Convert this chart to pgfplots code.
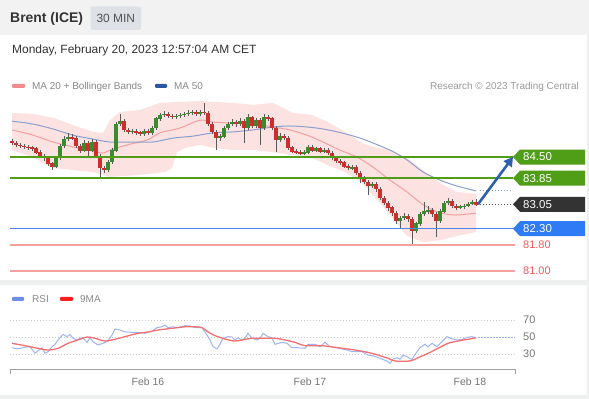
\documentclass[border=0pt]{standalone}
\usepackage{pgfplots}
\pgfplotsset{compat=1.18}
\usepackage{pgfplotstable}
\usetikzlibrary{arrows.meta}
\usepackage{fontspec}
\setmainfont{Liberation Sans}

\definecolor{hdrgray}{RGB}{242,242,242}
\definecolor{boxgray}{RGB}{222,226,231}
\definecolor{txtdark}{RGB}{51,51,51}
\definecolor{leggray}{RGB}{136,136,136}
\definecolor{resgray}{RGB}{155,155,155}
\definecolor{bbfill}{RGB}{253,226,226}
\definecolor{ma20c}{RGB}{245,160,160}
\definecolor{ma50c}{RGB}{138,160,208}
\definecolor{upc}{RGB}{58,138,46}
\definecolor{dnc}{RGB}{208,45,45}
\definecolor{wickc}{RGB}{90,90,90}
\definecolor{lvgreen}{RGB}{80,158,24}
\definecolor{lvblue}{RGB}{74,134,232}
\definecolor{tagblue}{RGB}{47,122,245}
\definecolor{tagdark}{RGB}{51,51,51}
\definecolor{lvred}{RGB}{246,160,160}
\definecolor{lvredtxt}{RGB}{240,90,90}
\definecolor{arrowc}{RGB}{44,95,174}
\definecolor{rsic}{RGB}{160,180,242}
\definecolor{rsima}{RGB}{242,112,112}
\definecolor{sepgray}{RGB}{238,240,240}
\definecolor{axgray}{RGB}{160,160,160}
\definecolor{tickgray}{RGB}{119,119,119}
\definecolor{legpink}{RGB}{242,139,139}
\definecolor{legblue}{RGB}{43,86,165}
\definecolor{legrsi}{RGB}{109,142,232}
\definecolor{legma}{RGB}{255,30,30}

\newcommand{\pricetag}[3]{%
  \fill[#2] (axis cs:513,#1) -- ++(7bp,7.5bp) -- ++(65bp,0bp) -- ++(0bp,-15bp) -- ++(-65bp,0bp) -- cycle;
  \node[anchor=west, inner sep=0pt, text=white, font=\fontsize{11.5}{13}\selectfont] at (axis cs:523,#1) {#3};
}

\pgfplotstableread{
x o h l c
12 84.99 85.05 84.87 84.93
16 84.93 84.99 84.81 84.87
20 84.87 84.93 84.78 84.84
24 84.84 84.90 84.75 84.81
28 84.81 84.87 84.71 84.78
32 84.78 84.84 84.68 84.75
36 84.75 84.81 84.59 84.65
40 84.65 84.71 84.47 84.53
44 84.53 84.59 84.38 84.47
48 84.47 84.53 84.22 84.29
52 84.29 84.35 84.10 84.22
56 84.22 84.53 84.16 84.47
60 84.47 84.90 84.41 84.84
64 84.84 85.14 84.78 85.05
68 85.05 85.24 84.99 85.11
72 85.11 85.21 85.02 85.08
76 85.08 85.14 84.78 84.84
80 84.84 84.90 84.62 84.71
84 84.71 85.02 84.65 84.93
88 84.93 84.99 84.53 84.71
92 84.71 85.05 84.65 84.96
96 84.96 85.02 84.47 84.53
100 84.53 84.59 83.89 84.16
104 84.16 84.22 84.01 84.10
108 84.10 84.41 84.04 84.35
112 84.35 84.78 84.29 84.71
116 84.71 85.57 84.65 85.51
120 85.51 85.82 85.45 85.60
124 85.60 85.67 85.27 85.33
128 85.33 85.39 85.21 85.27
132 85.27 85.36 85.21 85.30
136 85.30 85.36 85.17 85.24
140 85.24 85.30 85.14 85.21
144 85.21 85.36 85.14 85.30
148 85.30 85.36 85.17 85.24
152 85.24 85.45 85.17 85.39
156 85.39 85.73 85.33 85.67
160 85.67 85.85 85.60 85.79
164 85.79 85.91 85.73 85.82
168 85.82 85.88 85.70 85.76
172 85.76 85.82 85.67 85.73
176 85.73 85.82 85.67 85.76
180 85.76 85.85 85.70 85.79
184 85.79 85.88 85.73 85.82
188 85.82 85.94 85.76 85.85
192 85.85 85.94 85.79 85.88
196 85.88 85.94 85.76 85.82
200 85.82 85.94 85.76 85.88
204 85.88 86.16 85.79 85.85
208 85.85 85.91 85.45 85.51
212 85.51 85.57 85.21 85.27
216 85.27 85.33 84.71 85.08
220 85.08 85.21 84.99 85.14
224 85.14 85.45 85.08 85.39
228 85.39 85.57 85.33 85.51
232 85.51 85.67 85.45 85.57
236 85.57 85.63 85.42 85.51
240 85.51 85.70 85.45 85.60
244 85.60 85.67 84.93 85.39
248 85.39 85.82 85.33 85.70
252 85.70 85.76 85.39 85.45
256 85.45 85.70 85.39 85.63
260 85.63 85.70 84.87 85.39
264 85.39 85.82 85.33 85.73
268 85.73 85.79 85.60 85.67
272 85.67 85.73 85.33 85.39
276 85.39 85.45 84.65 85.02
280 85.02 85.24 84.96 85.14
284 85.14 85.21 85.02 85.08
288 85.08 85.14 84.71 84.78
292 84.78 84.84 84.62 84.68
296 84.68 84.75 84.59 84.65
300 84.65 84.71 84.56 84.62
304 84.62 84.71 84.56 84.65
308 84.65 84.87 84.59 84.81
312 84.81 84.87 84.65 84.71
316 84.71 84.81 84.65 84.75
320 84.75 84.81 84.62 84.68
324 84.68 84.78 84.62 84.71
328 84.71 84.78 84.56 84.62
332 84.62 84.68 84.41 84.47
336 84.47 84.53 84.32 84.38
340 84.38 84.44 84.25 84.32
344 84.32 84.38 84.16 84.22
348 84.22 84.29 84.10 84.16
352 84.16 84.25 84.10 84.19
356 84.19 84.25 83.95 84.01
360 84.01 84.07 83.70 83.86
364 83.86 83.92 83.67 83.73
368 83.73 83.79 83.33 83.61
372 83.61 83.73 83.55 83.67
376 83.67 83.73 83.43 83.52
380 83.52 83.58 83.18 83.24
384 83.24 83.30 83.03 83.09
388 83.09 83.15 82.84 82.94
392 82.94 83.00 82.69 82.78
396 82.78 82.84 82.45 82.54
400 82.54 82.69 82.32 82.63
404 82.63 82.78 82.57 82.69
408 82.69 82.75 82.51 82.60
412 82.60 82.66 81.80 82.23
416 82.23 82.51 82.17 82.45
420 82.45 82.81 82.38 82.75
424 82.75 83.12 82.69 82.84
428 82.84 83.00 82.75 82.87
432 82.87 82.94 82.66 82.75
436 82.75 82.81 82.05 82.54
440 82.54 82.91 82.48 82.84
444 82.84 83.15 82.78 83.09
448 83.09 83.24 83.03 83.15
452 83.15 83.21 82.94 83.00
456 83.00 83.06 82.87 82.94
460 82.94 83.03 82.91 82.97
464 82.97 83.06 82.91 83.00
468 83.00 83.12 82.97 83.06
472 83.06 83.18 83.03 83.12
476 83.12 83.21 83.00 83.05
}\candles

\pgfplotstableread{
x o c
56 84.22 84.47
60 84.47 84.84
64 84.84 85.05
68 85.05 85.11
84 84.71 84.93
92 84.71 84.96
108 84.10 84.35
112 84.35 84.71
116 84.71 85.51
120 85.51 85.60
132 85.27 85.30
144 85.21 85.30
152 85.24 85.39
156 85.39 85.67
160 85.67 85.79
164 85.79 85.82
176 85.73 85.76
180 85.76 85.79
184 85.79 85.82
188 85.82 85.85
192 85.85 85.88
200 85.82 85.88
220 85.08 85.14
224 85.14 85.39
228 85.39 85.51
232 85.51 85.57
240 85.51 85.60
248 85.39 85.70
256 85.45 85.63
264 85.39 85.73
280 85.02 85.14
304 84.62 84.65
308 84.65 84.81
316 84.71 84.75
324 84.68 84.71
352 84.16 84.19
372 83.61 83.67
400 82.54 82.63
404 82.63 82.69
416 82.23 82.45
420 82.45 82.75
424 82.75 82.84
428 82.84 82.87
440 82.54 82.84
444 82.84 83.09
448 83.09 83.15
460 82.94 82.97
464 82.97 83.00
468 83.00 83.06
472 83.06 83.12
}\upbodies

\pgfplotstableread{
x o c
12 84.99 84.93
16 84.93 84.87
20 84.87 84.84
24 84.84 84.81
28 84.81 84.78
32 84.78 84.75
36 84.75 84.65
40 84.65 84.53
44 84.53 84.47
48 84.47 84.29
52 84.29 84.22
72 85.11 85.08
76 85.08 84.84
80 84.84 84.71
88 84.93 84.71
96 84.96 84.53
100 84.53 84.16
104 84.16 84.10
124 85.60 85.33
128 85.33 85.27
136 85.30 85.24
140 85.24 85.21
148 85.30 85.24
168 85.82 85.76
172 85.76 85.73
196 85.88 85.82
204 85.88 85.85
208 85.85 85.51
212 85.51 85.27
216 85.27 85.08
236 85.57 85.51
244 85.60 85.39
252 85.70 85.45
260 85.63 85.39
268 85.73 85.67
272 85.67 85.39
276 85.39 85.02
284 85.14 85.08
288 85.08 84.78
292 84.78 84.68
296 84.68 84.65
300 84.65 84.62
312 84.81 84.71
320 84.75 84.68
328 84.71 84.62
332 84.62 84.47
336 84.47 84.38
340 84.38 84.32
344 84.32 84.22
348 84.22 84.16
356 84.19 84.01
360 84.01 83.86
364 83.86 83.73
368 83.73 83.61
376 83.67 83.52
380 83.52 83.24
384 83.24 83.09
388 83.09 82.94
392 82.94 82.78
396 82.78 82.54
408 82.69 82.60
412 82.60 82.23
432 82.87 82.75
436 82.75 82.54
452 83.15 83.00
456 83.00 82.94
476 83.12 83.05
}\dnbodies

\begin{document}
\begin{tikzpicture}
\useasboundingbox (0bp,0bp) rectangle (589bp,399bp);
\fill[white] (0bp,0bp) rectangle (589bp,399bp);
\fill[hdrgray] (0bp,364bp) rectangle (589bp,399bp);
\fill[sepgray] (0bp,114bp) rectangle (589bp,119bp);
\fill[sepgray] (0bp,0bp) rectangle (589bp,3.5bp);
\fill[sepgray] (587bp,0bp) rectangle (589bp,364bp);
\fill[boxgray, rounded corners=2bp] (90.5bp,369bp) rectangle (141bp,392.5bp);
\node[anchor=base west, inner sep=0pt, text=txtdark, font=\fontsize{14}{16}\selectfont\bfseries] at (10bp,376bp) {Brent (ICE)};
\node[anchor=base, inner sep=0pt, text=txtdark!85, font=\fontsize{12}{14}\selectfont] at (115.8bp,376.3bp) {30 MIN};
\node[anchor=base west, inner sep=0pt, text=txtdark, font=\fontsize{12}{14}\selectfont] at (12bp,345.7bp) {Monday, February 20, 2023 12:57:04 AM CET};
% main legend
\fill[legpink, rounded corners=1bp] (12bp,311bp) rectangle (25bp,315bp);
\node[anchor=base west, inner sep=0pt, text=leggray, font=\fontsize{10}{12}\selectfont] at (32bp,309.5bp) {MA 20 + Bollinger Bands};
\fill[legblue, rounded corners=1bp] (155bp,311bp) rectangle (167bp,315bp);
\node[anchor=base west, inner sep=0pt, text=leggray, font=\fontsize{10}{12}\selectfont] at (174bp,309.5bp) {MA 50};
\node[anchor=base east, inner sep=0pt, text=resgray, font=\fontsize{10}{12}\selectfont] at (579bp,309.5bp) {Research © 2023 Trading Central};
% rsi legend
\fill[legrsi, rounded corners=1bp] (12bp,98bp) rectangle (24bp,102bp);
\node[anchor=base west, inner sep=0pt, text=leggray, font=\fontsize{10}{12}\selectfont] at (32bp,96.4bp) {RSI};
\fill[legma, rounded corners=1bp] (60bp,98bp) rectangle (73bp,102bp);
\node[anchor=base west, inner sep=0pt, text=leggray, font=\fontsize{10}{12}\selectfont] at (80bp,96.4bp) {9MA};

\begin{axis}[at={(10bp,117bp)}, anchor=south west, scale only axis,
  width=505bp, height=187bp, xmin=10, xmax=515, ymin=80.666, ymax=86.402,
  hide axis, clip=false]
% Bollinger band (upper edge left to right, lower edge right to left)
\addplot[fill=bbfill, draw=none, forget plot] coordinates {(12,85.85) (33,85.82) (53,85.70) (73,85.48) (93,85.27) (103,85.24) (110,85.63) (120,85.88) (140,85.94) (160,86.16) (180,86.19) (200,86.22) (213,86.19) (233,86.16) (253,86.10) (273,86.16) (293,85.85) (312,85.79) (328,85.57) (345,85.27) (362,84.93) (373,84.81) (390,84.71) (407,84.47) (423,84.10) (440,83.70) (457,83.43) (476,83.37)
 (476,82.20) (457,82.08) (440,81.95) (423,81.89) (407,82.08) (390,82.72) (373,83.33) (362,83.70) (345,84.04) (328,84.25) (312,84.47) (293,84.56) (273,84.65) (253,84.71) (233,84.71) (213,84.78) (200,84.87) (185,84.78) (177,84.65) (172,84.16) (165,84.04) (140,83.95) (110,83.89) (93,84.04) (73,84.10) (53,84.16) (33,84.50) (12,84.71)};
\addplot[ma20c, line width=1bp, smooth] coordinates {(12,85.33) (33,85.17) (53,84.96) (73,84.81) (93,84.68) (103,84.62) (110,84.71) (127,84.87) (147,85.02) (160,85.24) (180,85.39) (200,85.63) (213,85.57) (233,85.54) (253,85.51) (273,85.42) (290,85.33) (307,85.17) (323,84.96) (340,84.71) (357,84.50) (373,84.19) (390,83.79) (407,83.43) (422,83.06) (438,82.81) (455,82.72) (476,82.78)};
\addplot[ma50c, line width=1bp, smooth] coordinates {(12,85.60) (33,85.51) (53,85.36) (73,85.17) (93,85.05) (110,84.96) (133,84.96) (153,84.96) (173,85.08) (193,85.14) (213,85.24) (233,85.27) (253,85.33) (273,85.42) (293,85.45) (323,85.36) (357,85.11) (390,84.71) (407,84.41) (423,84.04) (440,83.79) (457,83.61) (476,83.46)};
% wicks
\addplot[draw=none, forget plot, error bars/.cd, y dir=both, y explicit, error mark=none,
  error bar style={draw=wickc, solid, line width=0.7bp}]
  table[x=x, y expr={0.5*(\thisrow{h}+\thisrow{l})}, y error expr={0.5*(\thisrow{h}-\thisrow{l})}] {\candles};
% up bodies
\addplot[draw=none, forget plot, error bars/.cd, y dir=both, y explicit, error mark=none,
  error bar style={draw=upc, solid, line width=3.2bp}]
  table[x=x, y expr={0.5*(\thisrow{o}+\thisrow{c})}, y error expr={0.5*abs(\thisrow{c}-\thisrow{o})+0.012}] {\upbodies};
% down bodies
\addplot[draw=none, forget plot, error bars/.cd, y dir=both, y explicit, error mark=none,
  error bar style={draw=dnc, solid, line width=3.2bp}]
  table[x=x, y expr={0.5*(\thisrow{o}+\thisrow{c})}, y error expr={0.5*abs(\thisrow{c}-\thisrow{o})+0.012}] {\dnbodies};
% levels
\addplot[lvgreen, line width=1.8bp] coordinates {(10,84.50) (513,84.50)};
\addplot[lvgreen, line width=1.8bp] coordinates {(10,83.85) (513,83.85)};
\addplot[lvblue, line width=1.2bp] coordinates {(10,82.30) (513,82.30)};
\addplot[lvred, line width=1.3bp] coordinates {(10,81.80) (515,81.80)};
\addplot[lvred, line width=1.3bp] coordinates {(10,81.00) (515,81.00)};
\addplot[tagdark!80, line width=0.9bp, dash pattern=on 1bp off 2bp] coordinates {(480,83.05) (513,83.05)};
\addplot[ma50c, line width=0.9bp, dash pattern=on 1bp off 2bp] coordinates {(480,83.46) (513,83.46)};
\pricetag{84.50}{lvgreen}{84.50}
\pricetag{83.85}{lvgreen}{83.85}
\pricetag{83.05}{tagdark}{83.05}
\pricetag{82.30}{tagblue}{82.30}
\node[anchor=west, inner sep=0pt, text=lvredtxt, font=\fontsize{11}{12}\selectfont] at (axis cs:523,81.80) {81.80};
\node[anchor=west, inner sep=0pt, text=lvredtxt, font=\fontsize{11}{12}\selectfont] at (axis cs:523,81.00) {81.00};
\draw[arrowc, line width=2.6bp, -{Triangle[length=9bp,width=10bp]}] (axis cs:478,83.05) -- (axis cs:513,84.50);
\end{axis}

\begin{axis}[at={(10bp,30bp)}, anchor=south west, scale only axis,
  width=505bp, height=64bp, xmin=10, xmax=515, ymin=12.4, ymax=87.6,
  axis line style={draw=none}, major tick length=0pt,
  ytick={30,50,70}, yticklabel pos=right, ymajorgrids=true,
  grid style={draw=gray!40, dash pattern=on 1bp off 2bp, line width=0.8bp},
  xtick={148,310,470}, xticklabels={Feb 16,Feb 17,Feb 18},
  ticklabel style={text=tickgray, inner sep=0pt},
  xticklabel style={font=\fontsize{10.5}{12}\selectfont, anchor=base, yshift=-16.8bp},
  yticklabel style={font=\fontsize{11}{12}\selectfont, anchor=base west, xshift=8bp, yshift=-3.9bp},
  /pgf/number format/assume math mode=true,
  clip=false]
\addplot[rsic, line width=1bp] coordinates {(12,37.4) (18,36) (25,38) (30,38.6) (35,31) (38,33.5) (42,37.4) (45,31) (48,32.7) (52,38.6) (55,41.4) (58,46.5) (63,53) (67,50.4) (70,53) (73,48.5) (77,46.5) (80,48.5) (83,49) (87,43.7) (90,49) (93,44.5) (98,40.6) (103,42.6) (108,45.3) (112,52.4) (115,59.4) (120,58.2) (125,56) (132,55.5) (138,55.5) (145,54.3) (152,57) (157,61) (162,62) (165,64) (168,61) (173,62) (178,61) (185,63.3) (190,63) (195,61) (202,61) (205,56) (210,46.5) (213,38.6) (217,36) (220,41.4) (223,48.5) (228,50.4) (232,50) (235,46.5) (238,49) (242,46.5) (245,48.5) (248,54.3) (252,48.5) (257,46.5) (260,48.5) (263,54.3) (268,50.4) (272,49) (275,41.4) (282,43.7) (287,42.6) (292,37.4) (298,37.4) (305,36.7) (308,41.4) (315,41.4) (320,38.6) (325,43.7) (330,38.6) (337,37.4) (342,36) (347,34.7) (352,32.7) (357,32.7) (362,32.7) (368,28.8) (373,28) (380,25) (387,21.8) (390,19) (393,24) (397,25.6) (400,24) (403,28.8) (407,26.8) (412,23.7) (415,29.6) (420,37.4) (425,41.4) (428,38.6) (432,42.6) (437,38.6) (442,44.5) (447,50.4) (452,48) (457,46.5) (462,47) (467,49.6) (472,50.4) (476,49)};
\addplot[rsic, line width=1bp, dash pattern=on 1.5bp off 1.5bp] coordinates {(478,49.5) (515,49.5)};
\addplot[rsima, line width=1.3bp, smooth] coordinates {(12,42.6) (25,39.8) (38,36.7) (48,34.7) (58,36.7) (68,42.6) (78,46.5) (87,50) (95,48.5) (105,45.3) (115,47.3) (125,50.4) (138,54.3) (148,55.9) (158,58.2) (172,60.2) (185,62) (195,62) (202,61) (208,56) (215,51.6) (225,47.6) (235,45.3) (242,46.5) (252,48.5) (265,48.5) (275,48.5) (285,46.5) (295,43.7) (305,39.8) (322,39.8) (338,37.4) (355,34.7) (372,30.8) (388,25) (395,21.8) (410,21.8) (418,25.6) (428,30.8) (438,36.7) (448,42.6) (458,45.3) (468,47.3) (476,49)};
\draw[axgray, line width=0.8bp] (axis cs:10,12.4) -- (axis cs:515,12.4);
\draw[axgray, line width=0.8bp] (axis cs:10,12.4) -- ++(0bp,-5bp);
\draw[axgray, line width=0.8bp] (axis cs:515,12.4) -- ++(0bp,-5bp);
\end{axis}
\end{tikzpicture}
\end{document}
